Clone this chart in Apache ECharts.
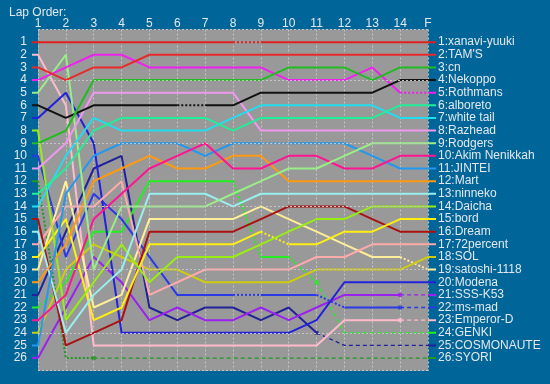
<!DOCTYPE html>
<html><head><meta charset="utf-8">
<script src="https://cdn.jsdelivr.net/npm/echarts/dist/echarts.min.js"></script>
<style>html,body{margin:0;padding:0;background:#006699;}#c{width:550px;height:384px;}</style>
</head><body><div id="c"></div>
<script>
// ---- data ----
const lapLabels = ['1','2','3','4','5','6','7','8','9','10','11','12','13','14','F'];
const drivers = ['xanavi-yuuki',"TAM'S",'cn','Nekoppo','Rothmans','alboreto','white tail','Razhead','Rodgers','Akim Nenikkah','JINTEI','Mart','ninneko','Daicha','bord','Dream','72percent','SOL','satoshi-1118','Modena','SSS-K53','ms-mad','Emperor-D','GENKI','COSMONAUTE','SYORI'];
// position at lap 1..14 and F
const posXanavi   = [1,1,1,1,1,1,1,1,1,1,1,1,1,1,1];
const posTams     = [3,4,3,3,2,2,2,2,2,2,2,2,2,2,2];
const posCn       = [9,8,4,4,4,4,4,4,4,3,3,3,4,3,3];
const posNekoppo  = [6,7,6,6,6,6,6,6,5,5,5,5,5,4,4];
const posRothmans = [4,3,2,2,3,3,3,3,3,4,4,4,3,5,5];
const posAlboreto = [13,11,8,7,7,7,7,8,7,7,7,7,7,6,6];
const posWhite    = [14,10,7,8,8,8,8,7,6,6,6,6,6,7,7];
const posRazhead  = [11,9,5,5,5,5,5,5,8,8,8,8,8,8,8];
const posRodgers  = [5,2,19,14,14,14,14,13,12,11,11,10,9,9,9];
const posAkim     = [23,21,15,13,11,10,9,11,11,10,10,11,11,10,10];
const posJintei   = [25,13,10,9,9,9,10,9,9,9,9,9,10,11,11];
const posMart     = [20,17,12,11,10,11,11,10,10,12,12,12,12,12,12];
const posNinneko  = [16,24,21,19,13,13,13,14,13,13,13,13,13,13,13];
const posDaicha   = [8,23,20,17,20,18,18,18,17,16,15,15,14,14,14];
const posBord     = [18,15,23,22,17,17,17,17,16,17,17,16,16,15,15];
const posDream    = [15,25,24,23,16,16,16,16,15,14,14,14,15,16,16];
const pos72       = [17,14,14,12,21,20,19,19,19,19,18,18,17,17,17];
const posSol      = [24,19,17,18,19,19,20,20,20,20,19,19,19,19,18];
const posSatoshi  = [19,12,22,21,15,15,15,15,14,15,16,17,18,18,19];
const posModena   = [7,5,9,24,24,24,24,24,24,24,23,20,20,20,20];
const posSss      = [26,22,18,20,23,22,23,23,22,23,22,21,21,21,21];
const posMsmad    = [10,18,13,15,18,21,21,21,21,21,21,22,22,22,22];
const posEmperor  = [2,6,25,25,25,25,25,25,25,25,25,23,23,23,23];
const posGenki    = [22,20,16,16,12,12,12,12,18,18,20,24,24,24,24];
const posCosmo    = [21,16,11,10,22,23,22,22,23,22,24,25,25,25,25];
const posSyori    = [12,26,26,26,26,26,26,26,26,26,26,26,26,26,26];
const positions = [posXanavi,posTams,posCn,posNekoppo,posRothmans,posAlboreto,posWhite,posRazhead,posRodgers,posAkim,posJintei,posMart,posNinneko,posDaicha,posBord,posDream,pos72,posSol,posSatoshi,posModena,posSss,posMsmad,posEmperor,posGenki,posCosmo,posSyori];
// pit laps (segment from lap k to k+1 drawn dotted)
const pitSegments = {0:[8],3:[6],4:[14],10:[9],14:[9],18:[14],21:[8,11],23:[1,8,10],25:[1,2]};
// retired from lap (drawn dashed afterwards)
const retiredFrom = {20:14,21:14,22:14,23:11,24:11,25:3};

// ---- styles ----
const colors = ['#e02020','#e82a2a','#22bb22','#111111','#ee22ee','#22ee99','#22ddee','#ee99ee','#99ee88','#ff1493','#2299ee','#ff9911','#99eeee','#99ee11','#ffee11','#aa1111','#ffaaaa','#cccc11','#ffee99','#2222dd','#9922ee','#2a3ae6','#ffbbcc','#22ee22','#222299','#229922'];
const TXT = '#e4e8ec';
const FONT = 'Liberation Sans, Arial, sans-serif';
const nL = lapLabels.length;
const G_LEFT = 38, G_RIGHT = 122, G_TOP = 29.5, G_BOTTOM = 13.3;
const PX_PER_LAP = (550 - G_LEFT - G_RIGHT) / (nL - 1);
const STUB_L_PX = 6, STUB_R_PX = 8;
const STUB_L = STUB_L_PX / PX_PER_LAP, STUB_R = STUB_R_PX / PX_PER_LAP;

const series = [];
series.push({type:'line', data:[], silent:true, xAxisIndex:0, yAxisIndex:0,
  markLine:{silent:true, symbol:'none', label:{show:false}, animation:false,
    lineStyle:{color:'#c4c4c4', type:[2,2], width:1},
    data:[0,4,9,14,19,24,27].map(v=>({yAxis:v}))}});

positions.forEach((p, d) => {
  const xs = [1-STUB_L]; const ys = [p[0]];
  p.forEach((v,i)=>{xs.push(i+1); ys.push(v);});
  xs.push(nL+STUB_R); ys.push(p[nL-1]);
  const nSeg = xs.length-1;
  const styleOf = j => {
    if (j===0 || j===nSeg-1) return 'solid';
    if (retiredFrom[d] && j >= retiredFrom[d]) return 'dashed';
    if (pitSegments[d] && pitSegments[d].includes(j)) return 'dotted';
    return 'solid';
  };
  let start = 0;
  for (let j=1;j<=nSeg;j++){
    if (j===nSeg || styleOf(j)!==styleOf(start)){
      const st = styleOf(start);
      const pts = [];
      for (let k=start;k<=j;k++) pts.push([xs[k], ys[k]]);
      series.push({type:'line', data:pts, showSymbol:false, silent:true,
        xAxisIndex:1, yAxisIndex:2,
        z: 2 + (26-d)/100,
        lineStyle:{color:colors[d], width: st==='dashed'?1.3:2,
          type: st==='dashed'?[4,3]:(st==='dotted'?[2,2]:'solid'), cap:'butt'}});
      start = j;
    }
  }
  if (retiredFrom[d]) {
    const r = retiredFrom[d];
    series.push({type:'scatter', data:[[r, p[r-1]]], symbol:'rect', symbolSize:4, silent:true,
      xAxisIndex:1, yAxisIndex:2, z:3, itemStyle:{color:colors[d]}});
  }
});

const finalNames = {};
positions.forEach((p,d)=>{ finalNames[p[nL-1]] = drivers[d]; });

const chart = echarts.init(document.getElementById('c'), null, {renderer:'canvas'});
chart.setOption({
  animation:false,
  backgroundColor:'#006699',
  textStyle:{fontFamily:FONT},
  title:{text:'Lap Order:', left:4, top:1.5, textStyle:{color:TXT, fontSize:12, fontWeight:'normal', fontFamily:FONT}},
  grid:[
    {left:G_LEFT, right:G_RIGHT, top:G_TOP, bottom:G_BOTTOM, show:true, backgroundColor:'#999999', borderWidth:0},
    {left:G_LEFT-STUB_L_PX, right:G_RIGHT-STUB_R_PX, top:G_TOP, bottom:G_BOTTOM, show:false}
  ],
  xAxis:[
    {gridIndex:0, type:'value', min:1, max:nL, interval:1, position:'top',
     axisLine:{show:false}, axisTick:{show:false},
     axisLabel:{color:TXT, fontSize:12, margin:0, fontFamily:FONT, formatter:v=>lapLabels[v-1]||''},
     splitLine:{show:true, lineStyle:{color:'#c4c4c4', type:[2,2], width:1}}},
    {gridIndex:1, type:'value', min:1-STUB_L, max:nL+STUB_R, show:false, splitLine:{show:false}}
  ],
  yAxis:[
    {gridIndex:0, type:'value', inverse:true, min:0, max:27, interval:1,
     axisLine:{show:false}, axisTick:{show:false}, splitLine:{show:false},
     axisLabel:{color:TXT, fontSize:12, margin:11, fontFamily:FONT, formatter:v=>(v>=1&&v<=26)?String(v):''}},
    {gridIndex:0, type:'value', inverse:true, min:0, max:27, interval:1, position:'right',
     axisLine:{show:false}, axisTick:{show:false}, splitLine:{show:false},
     axisLabel:{color:TXT, fontSize:12, margin:10, fontFamily:FONT, formatter:v=>finalNames[v]?(v+':'+finalNames[v]):''}},
    {gridIndex:1, type:'value', inverse:true, min:0, max:27, show:false, splitLine:{show:false}}
  ],
  series: series
});
</script>
</body></html>
